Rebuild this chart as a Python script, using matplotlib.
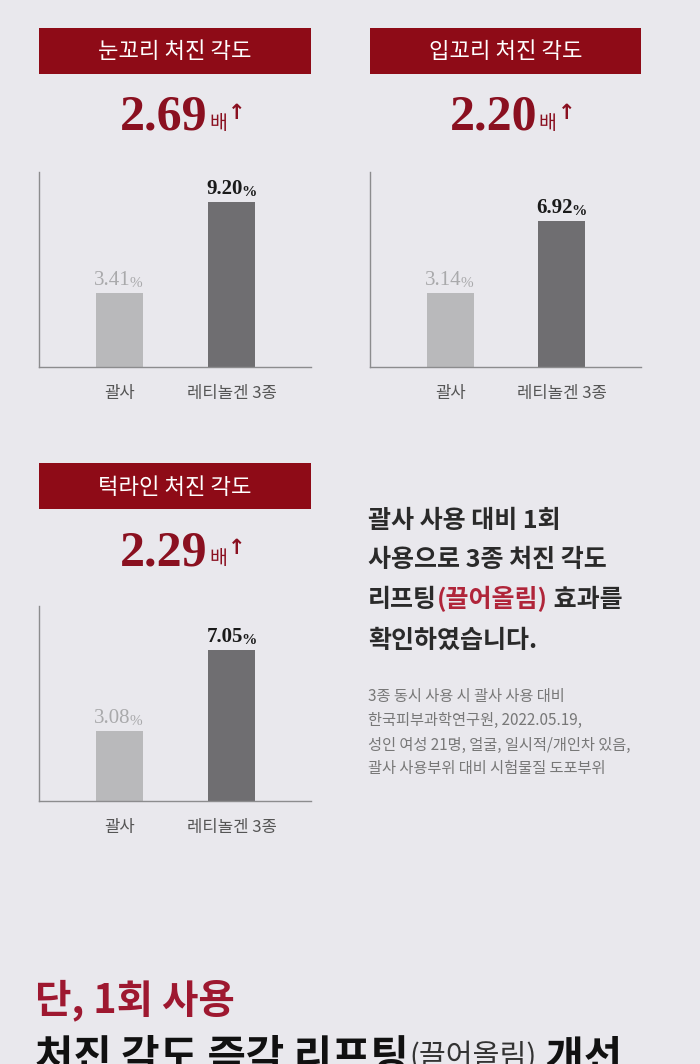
import matplotlib.pyplot as plt
from matplotlib.patches import Rectangle
import numpy as np

plt.rcParams['font.family'] = ['Noto Sans CJK KR', 'DejaVu Sans']

# data
titles = ["눈꼬리 처진 각도", "입꼬리 처진 각도", "턱라인 처진 각도"]
ratios = ["2.69", "2.20", "2.29"]
categories = ["괄사", "레티놀겐 3종"]
gualsa = [3.41, 3.14, 3.08]
retinolgen = [9.20, 6.92, 7.05]

summary_lines = ["괄사 사용 대비 1회", "사용으로 3종 처진 각도", "리프팅", "확인하였습니다."]
summary_red = "(끌어올림)"
summary_tail = " 효과를"
note_lines = ["3종 동시 사용 시 괄사 사용 대비",
              "한국피부과학연구원, 2022.05.19,",
              "성인 여성 21명, 얼굴, 일시적/개인차 있음,",
              "괄사 사용부위 대비 시험물질 도포부위"]
bottom_red = "단, 1회 사용"
bottom_line = ["처진 각도 즉각 리프팅", "(끌어올림)", " 개선"]

W, H = 700, 1064
BG = "#E9E8ED"
HEAD = "#8E0B17"
NUM = "#8A1020"
LIGHT = "#B9B9BB"
DARK = "#6F6E71"
SERIF = "Liberation Serif"

fig = plt.figure(figsize=(7, 10.64), dpi=100, facecolor=BG)
bg = fig.add_axes([0, 0, 1, 1])
bg.set_xlim(0, W); bg.set_ylim(H, 0); bg.axis("off")


def fig_box(l, t, r, b):
    return [l / W, 1 - b / H, (r - l) / W, (b - t) / H]


# left, right, header top, header bottom, number baseline, axes top, axes bottom, number x
panels = [(39, 311, 28, 74, 130, 172, 367, 120),
          (370, 641, 28, 74, 130, 172, 367, 450),
          (39, 311, 463, 509, 565, 606, 801, 120)]
y_base = [-1.3, -0.75, -0.35]
y_top = [11.1, 9.5, 9.2]

for i, (l, r, ht, hb, nb, at, ab, nx) in enumerate(panels):
    bg.add_patch(Rectangle((l, ht), r - l, hb - ht, color=HEAD, lw=0))
    bg.text((l + r) / 2, (ht + hb) / 2 + 1, titles[i], color="white", fontsize=16,
            ha="center", va="center")

    t_num = bg.text(nx, nb, ratios[i], family=SERIF, fontweight="bold", fontsize=36,
                    color=NUM, ha="left", va="baseline")
    t_bae = bg.annotate("배", xy=(1, 0), xycoords=t_num, xytext=(1, 5),
                        textcoords="offset points", fontsize=14, color=NUM,
                        ha="left", va="bottom")
    bg.annotate("↑", xy=(1, 1), xycoords=t_bae, xytext=(1, 7),
                textcoords="offset points", fontsize=15, fontweight="bold",
                family="DejaVu Sans", color=NUM, ha="left", va="top")

    ax = fig.add_axes(fig_box(l, at, r, ab))
    ax.set_facecolor("none")
    vals = [gualsa[i], retinolgen[i]]
    base = y_base[i]
    ax.bar([0, 1], np.array(vals) - base, bottom=base, width=0.42,
           color=[LIGHT, DARK])
    ax.set_xlim(-0.72, 1.71)
    ax.set_ylim(base, y_top[i])
    for s in ["top", "right"]:
        ax.spines[s].set_visible(False)
    for s in ["left", "bottom"]:
        ax.spines[s].set_color("#8C8C8E")
        ax.spines[s].set_linewidth(1)
    ax.set_yticks([])
    ax.set_xticks([0, 1], categories, fontsize=12, color="#555555")
    ax.tick_params(axis="x", length=0, pad=13)

    for j, v in enumerate(vals):
        col = "#A9A9AB" if j == 0 else "#1A1A1A"
        wt = "normal" if j == 0 else "bold"
        t = ax.annotate(f"{v:.2f}", xy=(j, v), xytext=(-5, 6), textcoords="offset points",
                        family=SERIF, fontsize=15, fontweight=wt, color=col,
                        ha="center", va="baseline")
        ax.annotate("%", xy=(1, 0), xycoords=t, xytext=(-1, 0), textcoords="offset points",
                    family=SERIF, fontsize=11, fontweight=wt, color=col,
                    ha="left", va="bottom")

# summary text
line_y = [521, 560, 600, 641]
for k, s in enumerate(summary_lines):
    t = bg.text(368, line_y[k], s, fontsize=18, fontweight="bold", color="#2A2A2A",
                ha="left", va="center")
    if k == 2:
        t2 = bg.annotate(summary_red, xy=(1, 0), xycoords=t, fontsize=18,
                         fontweight="bold", color="#B0253A", ha="left", va="bottom")
        bg.annotate(summary_tail, xy=(1, 0), xycoords=t2, fontsize=18,
                    fontweight="bold", color="#2A2A2A", ha="left", va="bottom")

note_y = [696, 720, 745, 769]
for k, s in enumerate(note_lines):
    bg.text(368, note_y[k], s, fontsize=11, color="#777777", ha="left", va="center")

# bottom headline (cut off at the lower edge, as in the original)
bg.text(35, 1000, bottom_red, fontsize=28.5, fontweight="bold", color="#9E1830",
        ha="left", va="center")
b1 = bg.text(35, 1058, bottom_line[0], fontsize=30, fontweight="bold", color="#111111",
             ha="left", va="center")
b2 = bg.annotate(bottom_line[1], xy=(1, 0.15), xycoords=b1, fontsize=21,
                 color="#333333", ha="left", va="bottom")
bg.annotate(bottom_line[2], xy=(1, 0), xycoords=b2, xytext=(0, -5), textcoords="offset points",
            fontsize=30, fontweight="bold", color="#111111", ha="left", va="bottom")

fig.savefig("out.png", dpi=100, facecolor=BG)
